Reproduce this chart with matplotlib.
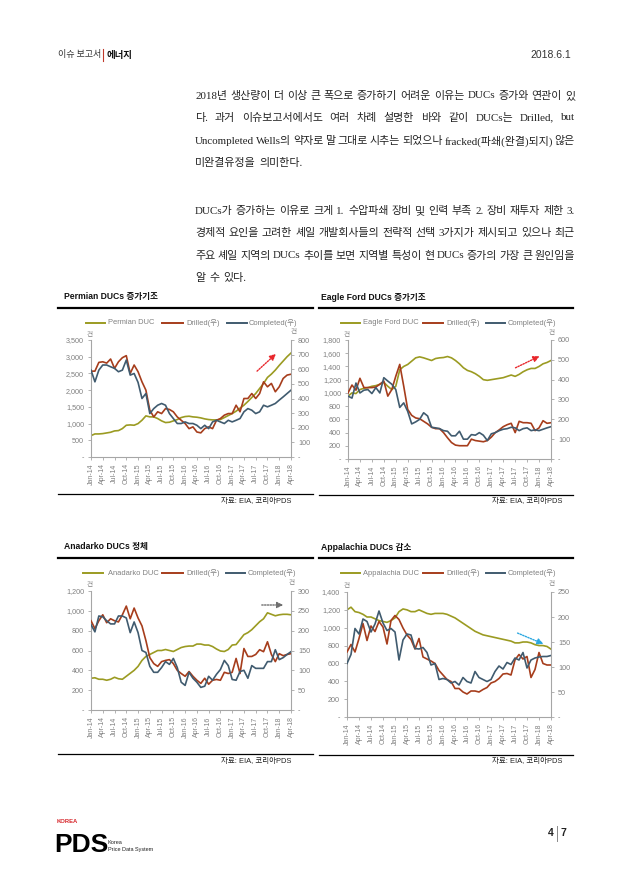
import matplotlib
matplotlib.use('Agg')
import matplotlib.pyplot as plt
from matplotlib.lines import Line2D
import numpy as np

plt.rcParams['font.family'] = ['Liberation Sans', 'Noto Sans CJK KR', 'DejaVu Sans']

# ---------------- data ----------------
tick_labels = ['Jan-14', 'Apr-14', 'Jul-14', 'Oct-14', 'Jan-15', 'Apr-15', 'Jul-15', 'Oct-15',
               'Jan-16', 'Apr-16', 'Jul-16', 'Oct-16', 'Jan-17', 'Apr-17', 'Jul-17', 'Oct-17',
               'Jan-18', 'Apr-18']

permian_duc = [640, 690, 690, 700, 720, 740, 780, 790, 850, 950,
               960, 950, 1000, 1100, 1230, 1200, 1200, 1150, 1080, 1030,
               1040, 1080, 1120, 1180, 1210, 1220, 1200, 1190, 1170, 1140,
               1120, 1110, 1110, 1120, 1180, 1240, 1300, 1370, 1460, 1550,
               1660, 1780, 1900, 2050, 2200, 2380, 2480, 2600, 2740, 2870,
               3000, 3110]
permian_drilled = [587, 587, 647, 651, 642, 670, 606, 651, 679, 693,
                   571, 629, 583, 514, 457, 320, 274, 309, 297, 331,
                   325, 309, 274, 251, 229, 194, 206, 171, 165, 194,
                   206, 194, 251, 263, 286, 297, 297, 354, 309, 400,
                   400, 434, 400, 434, 514, 480, 503, 446, 480, 537,
                   560, 566]
permian_completed = [594, 514, 594, 629, 629, 617, 606, 583, 594, 663,
                     560, 571, 510, 400, 434, 297, 331, 354, 366, 354,
                     297, 263, 229, 229, 240, 229, 229, 217, 194, 217,
                     194, 240, 251, 240, 229, 251, 240, 251, 263, 309,
                     331, 320, 297, 309, 354, 343, 354, 366, 389, 411,
                     434, 457]

eagle_duc = [950, 1000, 990, 1050, 1070, 1080, 1100, 1110, 1130, 1160,
             1100, 1050, 1100, 1350, 1400, 1430, 1480, 1530, 1545, 1530,
             1510, 1490, 1520, 1530, 1535, 1550, 1530, 1490, 1440, 1380,
             1340, 1320, 1290, 1250, 1200, 1190, 1200, 1210, 1220, 1230,
             1250, 1270, 1250, 1280, 1320, 1350, 1370, 1370, 1400, 1440,
             1460, 1490]
eagle_drilled = [333, 373, 347, 407, 360, 360, 360, 363, 377, 393,
                 317, 350, 417, 477, 367, 250, 220, 207, 203, 190,
                 177, 160, 153, 153, 133, 107, 83, 70, 67, 67,
                 67, 100, 93, 90, 87, 93, 110, 133, 147, 163,
                 173, 180, 133, 190, 183, 183, 180, 143, 157, 193,
                 180, 183]
eagle_completed = [317, 307, 383, 333, 347, 350, 330, 360, 333, 410,
                   393, 377, 350, 260, 283, 240, 177, 187, 200, 233,
                   217, 160, 157, 153, 143, 140, 117, 117, 140, 100,
                   100, 123, 120, 133, 120, 93, 127, 133, 143, 150,
                   153, 160, 157, 143, 153, 157, 143, 147, 143, 150,
                   157, 163]

anadarko_duc = [320, 325, 310, 310, 300, 310, 330, 315, 310, 340,
                370, 400, 440, 500, 540, 560, 580, 600, 600, 610,
                600, 590, 610, 630, 640, 645, 645, 665, 665, 655,
                655, 640, 615, 595, 590, 610, 655, 660, 710, 760,
                780, 810, 850, 890, 920, 980, 965, 950, 960, 965,
                965, 960]
anadarko_drilled = [225, 205, 225, 240, 220, 230, 225, 222, 240, 262,
                    230, 257, 232, 212, 175, 132, 117, 110, 122, 125,
                    127, 117, 100, 92, 85, 97, 85, 75, 67, 80,
                    65, 75, 77, 75, 95, 92, 95, 130, 92, 155,
                    135, 135, 140, 152, 147, 172, 140, 122, 142, 137,
                    140, 142]
anadarko_completed = [215, 197, 237, 235, 225, 217, 217, 237, 237, 232,
                      195, 222, 195, 150, 145, 110, 95, 95, 107, 122,
                      115, 130, 107, 70, 62, 95, 80, 70, 57, 60,
                      85, 75, 90, 102, 125, 112, 77, 75, 97, 100,
                      80, 112, 105, 105, 105, 122, 122, 152, 127, 132,
                      140, 147]

appalachia_duc = [1200, 1230, 1180, 1170, 1150, 1120, 1120, 1100, 1080, 1070,
                  1060, 1080, 1110, 1180, 1210, 1200, 1180, 1180, 1200, 1180,
                  1160, 1150, 1160, 1160, 1160, 1150, 1130, 1110, 1080, 1050,
                  1020, 990, 960, 940, 920, 910, 900, 890, 880, 870,
                  860, 850, 830, 830, 840, 840, 830, 810, 800, 800,
                  790, 760]
appalachia_drilled = [130, 145, 130, 157, 187, 153, 182, 171, 191, 180,
                      146, 193, 203, 195, 178, 164, 155, 136, 157, 120,
                      116, 112, 107, 93, 84, 75, 71, 57, 57, 50,
                      46, 52, 52, 50, 55, 59, 68, 71, 77, 86,
                      87, 84, 114, 125, 116, 121, 79, 95, 129, 107,
                      104, 104]
appalachia_completed = [107, 125, 177, 166, 196, 191, 170, 186, 212, 188,
                        173, 177, 170, 114, 154, 166, 164, 137, 136, 139,
                        129, 104, 107, 75, 77, 75, 68, 71, 64, 79,
                        71, 68, 91, 79, 75, 71, 75, 91, 102, 96,
                        109, 105, 118, 114, 129, 98, 114, 118, 120, 121,
                        121, 123]

# ---------------- layout helpers ----------------
W, H = 632, 896
fig = plt.figure(figsize=(W / 100, H / 100), dpi=100)
fig.patch.set_facecolor('white')


def X(x):
    return x / W


def Y(y):
    return 1 - y / H


KR = ['Noto Sans CJK KR', 'DejaVu Sans']
LAT = ['Liberation Sans', 'Noto Sans CJK KR']
SERIF = ['Liberation Serif', 'Noto Sans CJK KR']

C_DUC = '#9b9b22'
C_DR = '#a63d1c'
C_CO = '#405b6f'
C_AX = '#a6a6a6'
C_TXT = '#808080'


def hline(x0, x1, y, lw=1.0, color='black'):
    fig.add_artist(Line2D([X(x0), X(x1)], [Y(y), Y(y)], color=color, lw=lw))


def vline(x, y0, y1, lw=0.8, color='black'):
    fig.add_artist(Line2D([X(x), X(x)], [Y(y0), Y(y1)], color=color, lw=lw))


# ---------------- header ----------------
fig.text(X(58), Y(55), '이슈 보고서', family=KR, fontsize=6.5, color='#333333', va='center')
vline(103, 49, 61, lw=0.8, color='#c0392b')
fig.text(X(107), Y(55), '에너지', family=KR, fontsize=6.8, weight='bold', color='#111111', va='center')
fig.text(X(571), Y(55), '2018.6.1', family=LAT, fontsize=7.5, color='#333333', ha='right', va='center')

# ---------------- body text ----------------
body_lines = [
    ('2018년 생산량이 더 이상 큰 폭으로 증가하기 어려운 이유는 DUCs 증가와 연관이 있', 96, True),
    ('다. 과거 이슈보고서에서도 여러 차례 설명한 바와 같이 DUCs는 Drilled, but', 118, True),
    ('Uncompleted Wells의 약자로 말 그대로 시추는 되었으나 fracked(파쇄(완결)되지) 않은', 141, True),
    ('미완결유정을 의미한다.', 163, False),
    ('DUCs가 증가하는 이유로 크게 1. 수압파쇄 장비 및 인력 부족 2. 장비 재투자 제한 3.', 211, True),
    ('경제적 요인을 고려한 셰일 개발회사들의 전략적 선택 3가지가 제시되고 있으나 최근', 233, True),
    ('주요 셰일 지역의 DUCs 추이를 보면 지역별 특성이 현 DUCs 증가의 가장 큰 원인임을', 256, True),
    ('알 수 있다.', 278, False),
]
renderer = fig.canvas.get_renderer()
BODY_FS = 7.9
for text, y, just in body_lines:
    words = text.split(' ')
    arts = [fig.text(0, Y(y), w, family=SERIF, fontsize=BODY_FS, color='#222222', va='center')
            for w in words]
    widths = [a.get_window_extent(renderer).width for a in arts]
    x0, x1 = 195, 575
    if just and len(words) > 1:
        gap = (x1 - x0 - sum(widths)) / (len(words) - 1)
    else:
        gap = BODY_FS * 100 / 72 * 0.35
    x = x0
    for a, w in zip(arts, widths):
        a.set_x(X(x))
        x += w + gap

# ---------------- charts ----------------
charts = [
    dict(title='Permian DUCs 증가기조', name='Permian DUC', duc=permian_duc, dr=permian_drilled,
         co=permian_completed, lmax=3500, lstep=500, rmax=800, rstep=100,
         box=(91, 340, 291, 457), frame=(58, 313), ty=297, tline=308, bline=494, src=(291, 501),
         leg_y=323, leg=[(86, 105, 108), (162, 183, 186), (227, 247, 249)], tx=64,
         unit_l=(90, 335), unit_r=(294, 332),
         arrow=((255, 373), (278, 352), '#e8262b')),
    dict(title='Eagle Ford DUCs 증가기조', name='Eagle Ford DUC', duc=eagle_duc, dr=eagle_drilled,
         co=eagle_completed, lmax=1800, lstep=200, rmax=600, rstep=100,
         box=(348, 340, 551, 459), frame=(319, 573), ty=297, tline=308, bline=495, src=(562, 501),
         leg_y=323, leg=[(341, 360, 363), (423, 443, 446), (486, 505, 508)], tx=321,
         unit_l=(347, 335), unit_r=(552, 333),
         arrow=((513, 369), (542, 355), '#e8262b')),
    dict(title='Anadarko DUCs 정체', name='Anadarko DUC', duc=anadarko_duc, dr=anadarko_drilled,
         co=anadarko_completed, lmax=1200, lstep=200, rmax=300, rstep=50,
         box=(91, 591, 291, 710), frame=(58, 313), ty=547, tline=558, bline=754, src=(291, 761),
         leg_y=573, leg=[(83, 103, 108), (162, 183, 186), (226, 245, 248)], tx=64,
         unit_l=(90, 585), unit_r=(292, 583),
         arrow=((259, 605), (286, 605), '#6f6f6f')),
    dict(title='Appalachia DUCs 감소', name='Appalachia DUC', duc=appalachia_duc, dr=appalachia_drilled,
         co=appalachia_completed, lmax=1400, lstep=200, rmax=250, rstep=50,
         box=(347, 592, 551, 717), frame=(319, 573), ty=547, tline=558, bline=755, src=(562, 761),
         leg_y=573, leg=[(341, 360, 363), (423, 443, 446), (486, 505, 508)], tx=321,
         unit_l=(347, 586), unit_r=(552, 584),
         arrow=((515, 632), (546, 645), '#2aa7e0')),
]

for c in charts:
    # title and frame lines
    fig.text(X(c['tx']), Y(c['ty']), c['title'], family=LAT, fontsize=6.2, weight='bold',
             color='#111111', va='center')
    hline(c['frame'][0], c['frame'][1], c['tline'], lw=1.6)
    hline(c['frame'][0], c['frame'][1], c['bline'], lw=0.9)
    fig.text(X(c['src'][0]), Y(c['src'][1]), '자료: EIA, 코리아PDS', family=LAT, fontsize=5.4,
             color='#222222', ha='right', va='center')

    # legend
    labels = [c['name'], 'Drilled(우)', 'Completed(우)']
    for (a, b, t), lab, col in zip(c['leg'], labels, [C_DUC, C_DR, C_CO]):
        hline(a, b, c['leg_y'], lw=1.4, color=col)
        fig.text(X(t), Y(c['leg_y']), lab, family=LAT, fontsize=5.4, color=C_TXT, va='center')

    # unit labels
    fig.text(X(c['unit_l'][0]), Y(c['unit_l'][1]), '건', family=KR, fontsize=4.8, color=C_TXT,
             ha='center', va='center')
    fig.text(X(c['unit_r'][0]), Y(c['unit_r'][1]), '건', family=KR, fontsize=4.8, color=C_TXT,
             ha='center', va='center')

    # axes
    x0, y0, x1, y1 = c['box']
    ax = fig.add_axes([X(x0), Y(y1), (x1 - x0) / W, (y1 - y0) / H])
    xs = np.arange(len(c['duc']))
    ax.plot(xs, c['duc'], color=C_DUC, lw=1.2, solid_joinstyle='round')
    ax2 = ax.twinx()
    ax2.plot(xs, c['dr'], color=C_DR, lw=1.2, solid_joinstyle='round')
    ax2.plot(xs, c['co'], color=C_CO, lw=1.2, solid_joinstyle='round')
    ax.set_xlim(0, len(xs) - 1)
    ax.set_ylim(0, c['lmax'])
    ax2.set_ylim(0, c['rmax'])
    lt = np.arange(0, c['lmax'] + 1, c['lstep'])
    rt = np.arange(0, c['rmax'] + 1, c['rstep'])
    ax.set_yticks(lt)
    ax.set_yticklabels(['-' if v == 0 else f'{v:,}' for v in lt])
    ax2.set_yticks(rt)
    ax2.set_yticklabels(['-' if v == 0 else f'{v:,}' for v in rt])
    ax.set_xticks(np.arange(0, len(xs), 3))
    ax.set_xticklabels(tick_labels, rotation=90)
    for a in (ax, ax2):
        a.patch.set_visible(False)
        a.spines['top'].set_visible(False)
        for s in a.spines.values():
            s.set_color(C_AX)
            s.set_linewidth(0.8)
        a.tick_params(colors=C_AX, labelcolor=C_TXT, labelsize=5.2, length=2.5, width=0.6, pad=2.5)
    ax.spines['right'].set_visible(False)
    ax2.spines['left'].set_visible(False)
    ax2.spines['bottom'].set_visible(False)
    ax.tick_params(axis='x', labelsize=5.0, pad=2)

    # trend arrow
    (sx, sy), (ex, ey), acol = c['arrow']
    fig.add_artist(matplotlib.patches.FancyArrowPatch(
        (X(sx), Y(sy)), (X(ex), Y(ey)), transform=fig.transFigure,
        arrowstyle='-|>', mutation_scale=9, linestyle=(0, (1, 1)), lw=1.0, color=acol))

# ---------------- footer ----------------
fig.text(X(57), Y(821), 'KOREA', family=LAT, fontsize=4.2, weight='bold', color='#d7262b', va='center')
fig.text(X(54), Y(852), 'PDS', family=LAT, fontsize=19, weight='bold', color='black', va='baseline')
fig.text(X(108), Y(842), 'Korea', family=LAT, fontsize=4, color='#222222', va='center')
fig.text(X(108), Y(849), 'Price Data System', family=LAT, fontsize=4, color='#222222', va='center')
fig.text(X(551), Y(833), '4', family=LAT, fontsize=7.5, weight='bold', color='#222222', ha='center', va='center')
vline(557, 826, 841, lw=0.7, color='#888888')
fig.text(X(563), Y(833), '7', family=LAT, fontsize=7.5, weight='bold', color='#222222', ha='center', va='center')

fig.savefig('out.png', dpi=100, facecolor='white')
